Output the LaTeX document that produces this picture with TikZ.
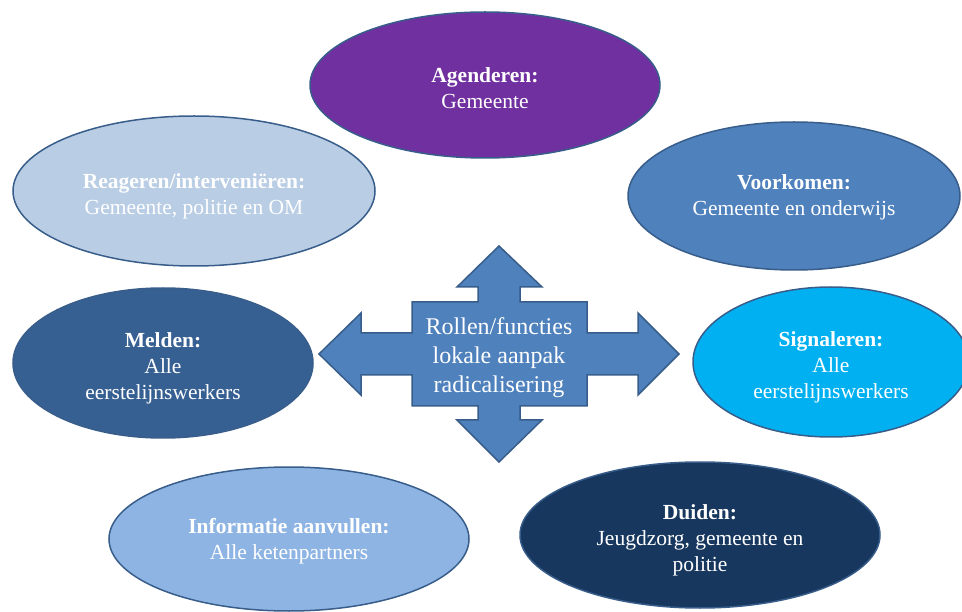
\documentclass[tikz,border=0pt]{standalone}
\usepackage{fontspec}
\setmainfont{Liberation Serif}
\usetikzlibrary{shapes.geometric}

\definecolor{paars}{HTML}{7030A0}
\definecolor{lichtblauw}{HTML}{B9CDE5}
\definecolor{middenblauw}{HTML}{4F81BD}
\definecolor{staalblauw}{HTML}{376092}
\definecolor{helderblauw}{HTML}{00B0F0}
\definecolor{hemelblauw}{HTML}{8EB4E3}
\definecolor{nachtblauw}{HTML}{17375E}
\definecolor{rand}{HTML}{385D8A}

\begin{document}
\begin{tikzpicture}[x=1pt, y=-1pt,
	rol/.style={ellipse, draw=rand, line width=1.5pt, inner sep=0pt},
	tekst/.style={text=white, align=center, yshift=-5pt, font=\fontsize{21.5}{26}\selectfont},
	kern/.style={text=white, align=center, yshift=-4pt, font=\fontsize{24}{29}\selectfont}]
	\useasboundingbox (0,0) rectangle (962,612);

	%roles around the centre
	\node (reageren) at (194, 191) [rol, fill=lichtblauw, minimum width=362pt, minimum height=150pt]{};
	\node (reageren-t) at (reageren.center) [tekst]{\textbf{Reageren/interveniëren:}\\Gemeente, politie en OM};

	\node (voorkomen) at (794, 196) [rol, fill=middenblauw, minimum width=332pt, minimum height=148pt]{};
	\node (voorkomen-t) at (voorkomen.center) [tekst, yshift=4pt]{\textbf{Voorkomen:}\\Gemeente en onderwijs};

	\node (melden) at (163, 363) [rol, fill=staalblauw, minimum width=300pt, minimum height=150pt]{};
	\node (melden-t) at (melden.center) [tekst]{\textbf{Melden:}\\Alle\\eerstelijnswerkers};

	\node (signaleren) at (831, 362) [rol, fill=helderblauw, minimum width=276pt, minimum height=150pt]{};
	\node (signaleren-t) at (signaleren.center) [tekst]{\textbf{Signaleren:}\\Alle\\eerstelijnswerkers};

	\node (informatie) at (289, 539) [rol, fill=hemelblauw, minimum width=360pt, minimum height=144pt]{};
	\node (informatie-t) at (informatie.center) [tekst, yshift=3pt]{\textbf{Informatie aanvullen:}\\Alle ketenpartners};

	\node (duiden) at (700, 535) [rol, fill=nachtblauw, minimum width=360pt, minimum height=146pt]{};
	\node (duiden-t) at (duiden.center) [tekst]{\textbf{Duiden:}\\Jeugdzorg, gemeente en\\politie};

	%top one lies over its neighbours
	\node (agenderen) at (485, 85) [rol, fill=paars, minimum width=350pt, minimum height=146pt]{};
	\node (agenderen-t) at (agenderen.center) [tekst, yshift=2pt]{\textbf{Agenderen:}\\Gemeente};

	%four-way arrow
	\draw[fill=middenblauw, draw=rand, line width=1.5pt, line join=miter]
		(499,246) -- (542,287) -- (520,287) -- (520,302) -- (587,302) -- (587,333)
		-- (638,333) -- (638,313) -- (679,354) -- (638,395) -- (638,375) -- (587,375)
		-- (587,406) -- (520,406) -- (520,420) -- (542,420) -- (499,462) -- (457,420)
		-- (478,420) -- (478,406) -- (412,406) -- (412,375) -- (361,375) -- (361,395)
		-- (319,354) -- (361,313) -- (361,333) -- (412,333) -- (412,302) -- (478,302)
		-- (478,287) -- (457,287) -- cycle;
	\node (kern) at (499, 354) [kern]{Rollen/functies\\lokale aanpak\\radicalisering};

\end{tikzpicture}
\end{document}
